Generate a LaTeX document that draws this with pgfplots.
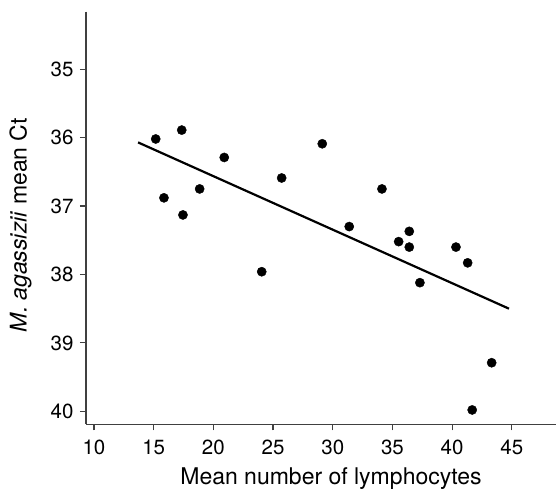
\documentclass[border=0pt]{standalone}
\usepackage{fontspec}
\setmainfont{TeX Gyre Heros}
\usepackage{pgfplots}
\pgfplotsset{compat=1.18}
\usetikzlibrary{calc}
\begin{document}
\begin{tikzpicture}
\begin{axis}[
  scale only axis, width=470pt, height=412.6pt,
  xmin=9.33, xmax=48.7, ymin=34.16, ymax=40.19, y dir=reverse,
  axis x line*=bottom, axis y line*=left,
  axis line style={line width=1.3pt, black!75},
  xtick={10,15,...,45}, ytick={35,36,...,40},
  tick align=outside, major tick length=6pt,
  tick style={line width=1.2pt, black!75},
  ticklabel style={font=\fontsize{20.5}{24}\selectfont},
  xticklabel style={yshift=-6pt},
  yticklabel style={xshift=-3pt},
  /pgf/number format/assume math mode=true,
  xlabel={Mean number of lymphocytes},
  ylabel={\textit{M. agassizii} mean Ct},
  label style={font=\fontsize{23}{27}\selectfont},
  xlabel style={at={(axis description cs:0.5213,-0.1454)}, anchor=base},
  ylabel style={at={(axis description cs:-0.1262,0.483)}, anchor=base},
  clip=false,
]
\addplot[only marks, mark=*, mark size=4.6pt, black] coordinates {
(15.17,36.02) (17.35,35.89) (15.86,36.88) (17.45,37.13) (18.85,36.75)
(20.91,36.29) (25.72,36.59) (29.12,36.09) (24.05,37.96) (34.12,36.75)
(31.38,37.30) (36.41,37.37) (35.52,37.52) (36.41,37.60) (40.32,37.60)
(41.30,37.83) (37.30,38.12) (43.31,39.29) (41.68,39.98)
};
\addplot[black, line width=2.2pt] coordinates {(13.69,36.07) (44.76,38.50)};
\end{axis}
\pgfresetboundingbox
\path[use as bounding box] ($(current axis.south west)+(-86pt,-64.7pt)$) rectangle ($(current axis.north east)+(0pt,11.7pt)$);
\end{tikzpicture}
\end{document}
